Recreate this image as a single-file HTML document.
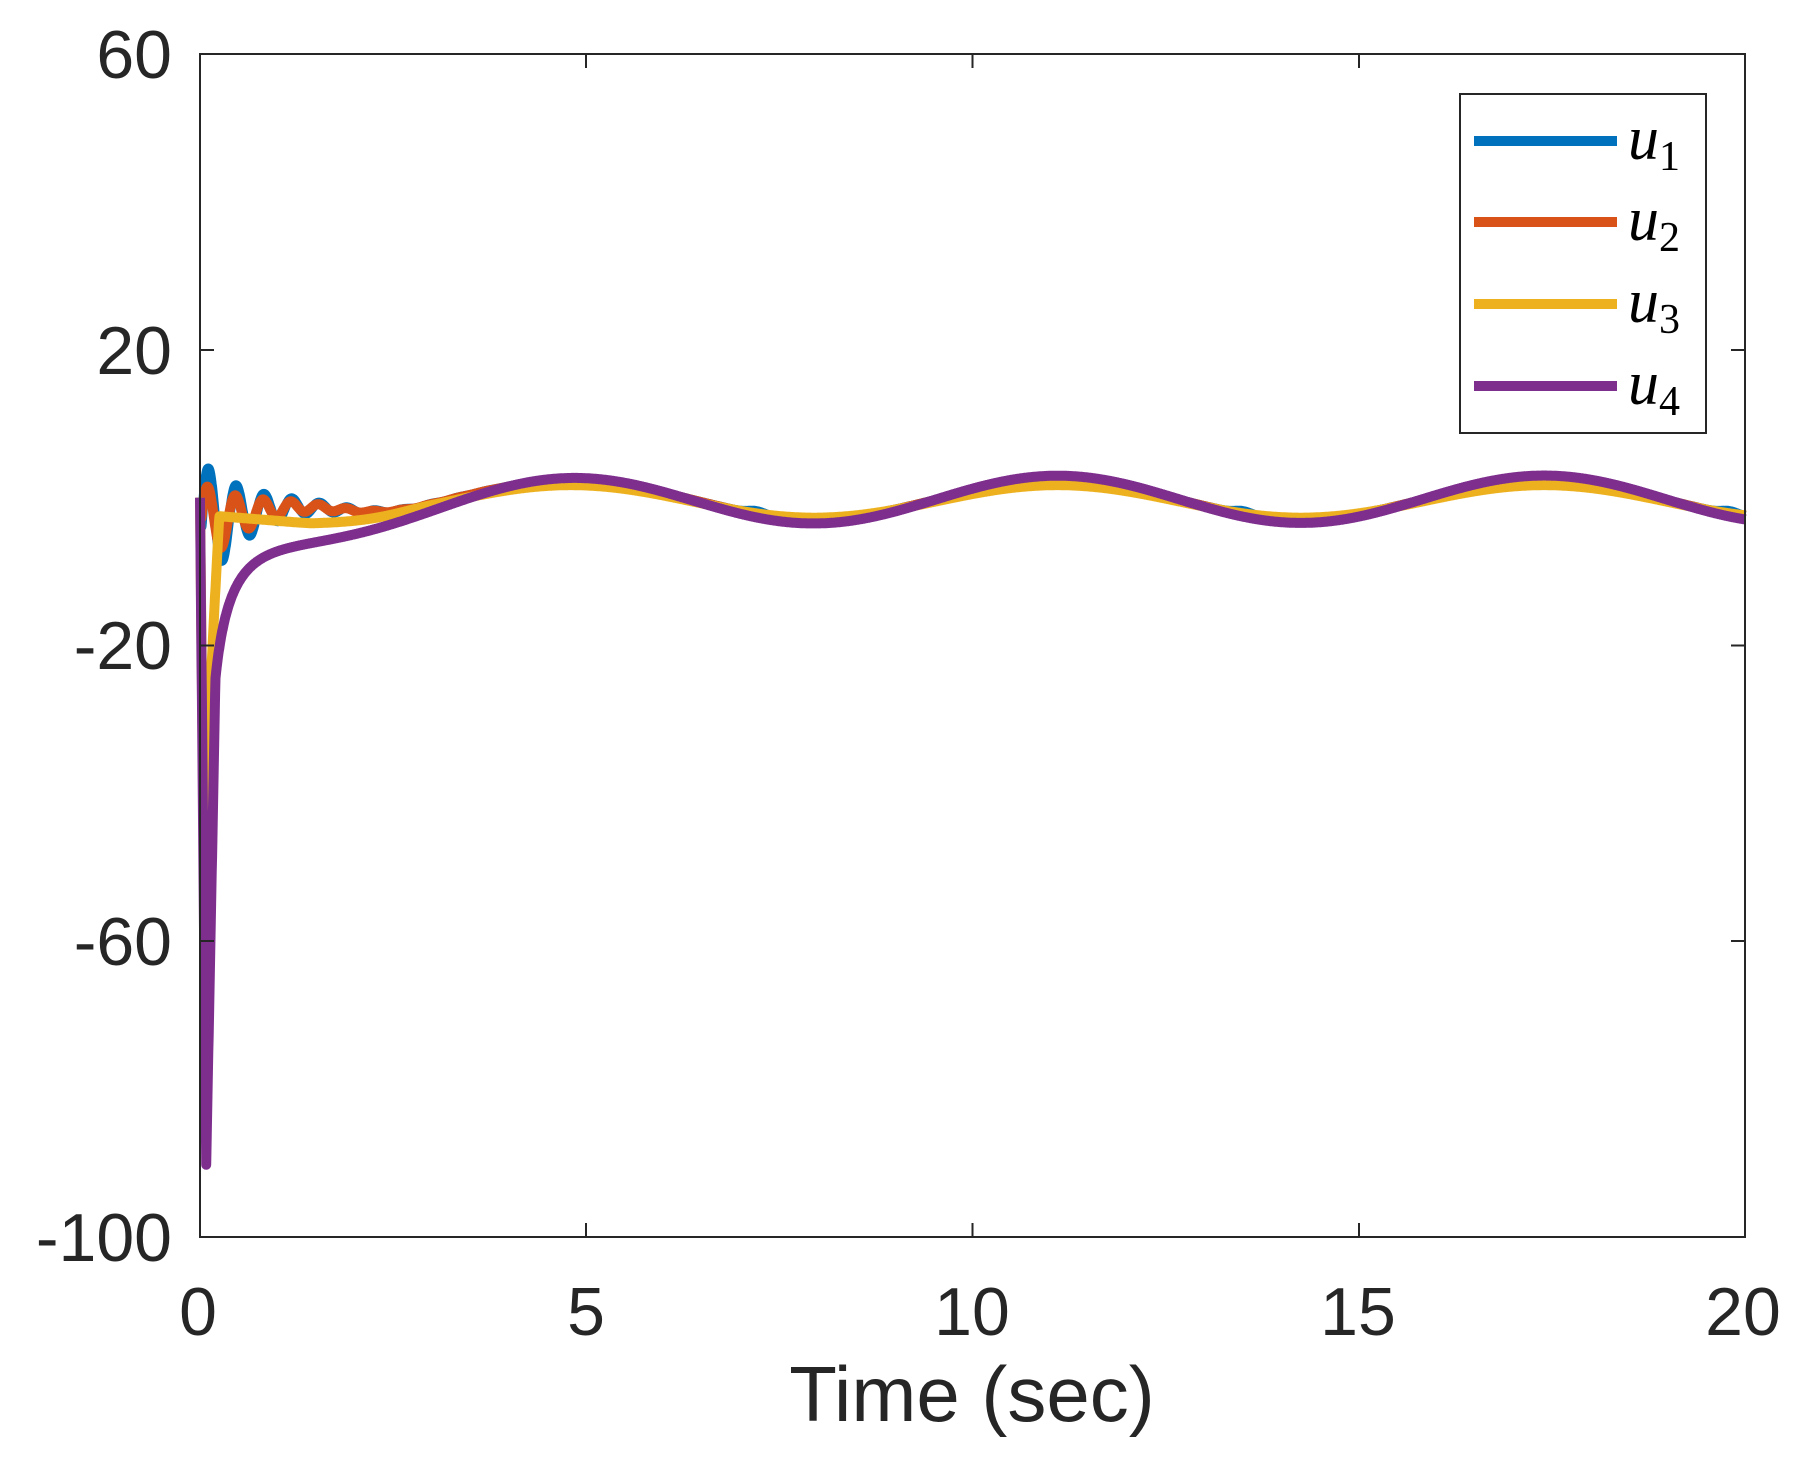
<!DOCTYPE html>
<html><head><meta charset="utf-8"><style>
html,body{margin:0;padding:0;background:#fff;}
svg{display:block;}
text{font-family:"Liberation Sans",sans-serif;fill:#262626;}
</style></head><body>
<svg id="s" width="1801" height="1465" viewBox="0 0 1801 1465" xmlns="http://www.w3.org/2000/svg">
<rect x="0" y="0" width="1801" height="1465" fill="#fff"/>
<g id="curves" fill="none" stroke-linejoin="round" stroke-linecap="butt" stroke-width="10"></g>
<rect x="200" y="54" width="1545" height="1183" fill="none" stroke="#262626" stroke-width="2"/>
<g stroke="#262626" stroke-width="2">
<line x1="586" y1="1237" x2="586" y2="1223"/><line x1="972.5" y1="1237" x2="972.5" y2="1223"/><line x1="1359" y1="1237" x2="1359" y2="1223"/>
<line x1="586" y1="54" x2="586" y2="68"/><line x1="972.5" y1="54" x2="972.5" y2="68"/><line x1="1359" y1="54" x2="1359" y2="68"/>
<line x1="200" y1="350" x2="214" y2="350"/><line x1="200" y1="645.5" x2="214" y2="645.5"/><line x1="200" y1="941" x2="214" y2="941"/>
<line x1="1745" y1="350" x2="1731" y2="350"/><line x1="1745" y1="645.5" x2="1731" y2="645.5"/><line x1="1745" y1="941" x2="1731" y2="941"/>
</g>
<g font-size="68" text-anchor="end">
<text x="172" y="78">60</text><text x="172" y="374">20</text><text x="172" y="669">-20</text><text x="172" y="965">-60</text><text x="172" y="1261">-100</text>
</g>
<g font-size="68" text-anchor="middle">
<text x="198" y="1335">0</text><text x="586" y="1335">5</text><text x="972" y="1335">10</text><text x="1358" y="1335">15</text><text x="1743" y="1335">20</text>
</g>
<text x="972" y="1421" font-size="78" text-anchor="middle">Time (sec)</text>
<rect x="1460" y="94" width="246" height="339" fill="#fff" stroke="#262626" stroke-width="2"/>
<g stroke-width="10">
<line x1="1474" y1="141" x2="1617" y2="141" stroke="#0072BD"/>
<line x1="1474" y1="222" x2="1617" y2="222" stroke="#D95319"/>
<line x1="1474" y1="304" x2="1617" y2="304" stroke="#EDB120"/>
<line x1="1474" y1="386" x2="1617" y2="386" stroke="#7E2F8E"/>
</g>
<g font-size="62" font-style="italic">
<text x="1628" y="159" style="font-family:'Liberation Serif',serif;fill:#000">u<tspan font-size="42" font-style="normal" dy="11">1</tspan></text>
<text x="1628" y="240" style="font-family:'Liberation Serif',serif;fill:#000">u<tspan font-size="42" font-style="normal" dy="11">2</tspan></text>
<text x="1628" y="322" style="font-family:'Liberation Serif',serif;fill:#000">u<tspan font-size="42" font-style="normal" dy="11">3</tspan></text>
<text x="1628" y="404" style="font-family:'Liberation Serif',serif;fill:#000">u<tspan font-size="42" font-style="normal" dy="11">4</tspan></text>
</g>
</svg>
<script>
(function(){
var X=function(t){return 200+t*77.25;},Y=function(v){return 497.7-v*7.394;};
var w=2*Math.PI/6.3;
function ss(t,a,o){return o+a*Math.cos(w*(t-4.8));}
function u4(t){
 if(t<0.08) return -90*t/0.08;
 var d=-6.3/(t+0.05)*Math.exp(-t/3.5);
 if(t<0.2){var k=(t-0.08)/0.12;d=-90*(1-k)+(-6.3/0.25*Math.exp(-0.2/3.5))*k;}
 return ss(t,3.2,-0.2)+d;}
function u3(t){
 if(t<0.05) return -50*t/0.05;
 if(t<0.25){var k=(t-0.05)/0.2;return -50+(47.5)*Math.pow(k,0.8);}
 var base=-2.5-1.0*Math.min(1,(t-0.25)/1.2);
 var s=ss(t,2.2,-0.5);var m=Math.min(1,Math.max(0,(t-1.2)/1.8));m=m*m*(3-2*m);
 return base*(1-m)+s*m;}
function osc(t,A,o){
 var s=ss(t,2.6,-0.3);
 if(t<0.02) return 0;
 var c=-3.5*Math.exp(-t/0.8);
 var m=Math.min(1,Math.max(0,(t-1.0)/2.0));m=m*m*(3-2*m);
 var base=c*(1-m)+s*m+(m<1?-(1-m)*0.5:0);
 return base+A*Math.exp(-t/0.6)*Math.sin(2*Math.PI*(t-0.02)/0.36+o);}
function u1(t){return osc(t,9,0)+(t>6?0.4*Math.exp(-Math.pow((t%6.3)-0.9,2)/0.02):0);}
function u2(t){return osc(t,6,0.2);}
function path(f,c){var d='';for(var t=0;t<=20.0001;t+=0.004){d+=(d?'L':'M')+X(t).toFixed(1)+','+Y(f(t)).toFixed(1);}
 var p=document.createElementNS('http://www.w3.org/2000/svg','path');p.setAttribute('d',d);p.setAttribute('stroke',c);document.getElementById('curves').appendChild(p);}
path(u1,'#0072BD');path(u2,'#D95319');path(u3,'#EDB120');path(u4,'#7E2F8E');
})();
</script>
</body></html>
